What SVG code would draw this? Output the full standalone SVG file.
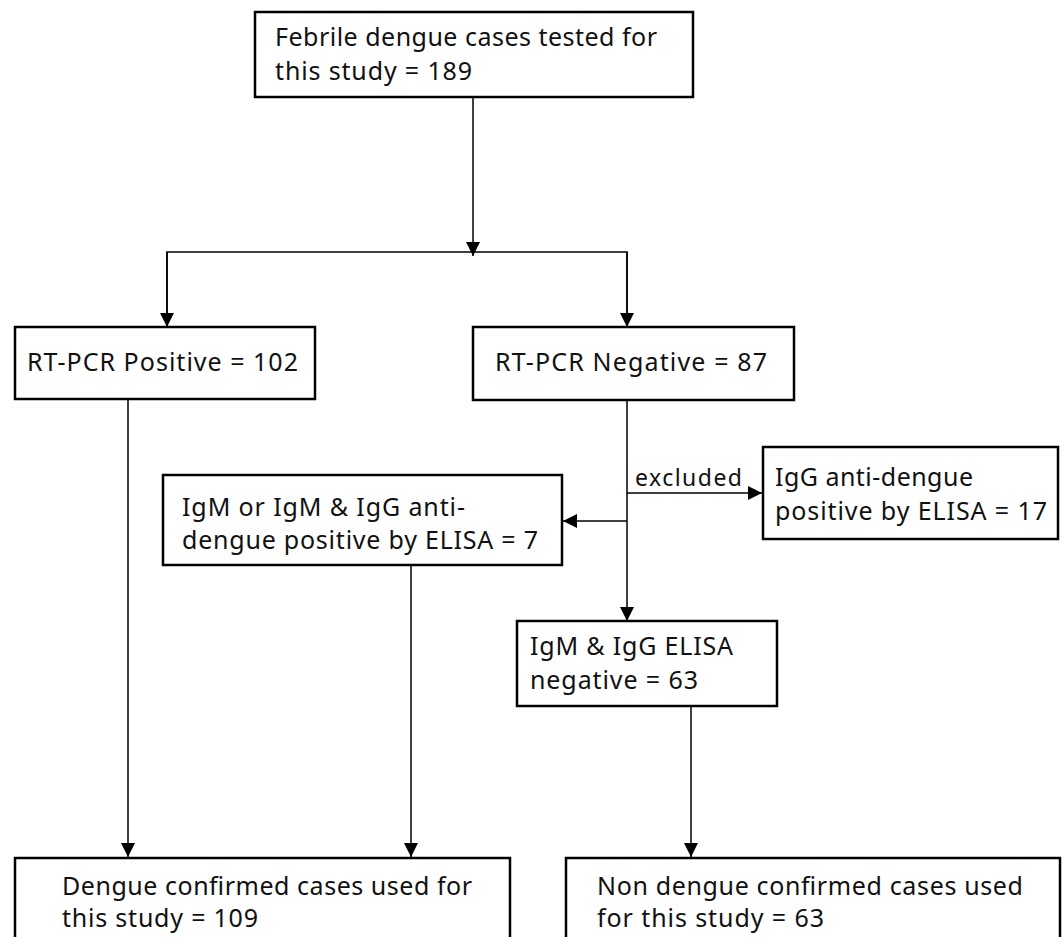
<svg xmlns="http://www.w3.org/2000/svg" width="1063" height="937" viewBox="0 0 1063 937">
<defs>
<marker id="ah" viewBox="0 0 10 10" refX="10" refY="5" markerWidth="14" markerHeight="14" markerUnits="userSpaceOnUse" orient="auto"><path d="M0,0 L10,5 L0,10 Z" fill="#000"/></marker>
<style>
.box{fill:#fff;stroke:#000;stroke-width:2.5}
.t{font-family:"Noto Sans","Open Sans",sans-serif;font-size:25px;fill:#111}
.s{font-family:"Noto Sans","Open Sans",sans-serif;font-size:23px;fill:#111}
.c{fill:none;stroke:#000;stroke-width:1.5}
</style>
</defs>
<rect width="1063" height="937" fill="#fff"/>
<g id="connectors">
<line class="c" x1="473" y1="97" x2="473" y2="256" marker-end="url(#ah)"/>
<polyline class="c" points="167,327 167,252 627,252 627,327"/>
<line class="c" x1="167" y1="252" x2="167" y2="327" marker-end="url(#ah)"/>
<line class="c" x1="627" y1="252" x2="627" y2="327" marker-end="url(#ah)"/>
<line class="c" x1="627" y1="400" x2="627" y2="621" marker-end="url(#ah)"/>
<line class="c" x1="627" y1="493" x2="762" y2="493" marker-end="url(#ah)"/>
<line class="c" x1="627" y1="521" x2="563" y2="521" marker-end="url(#ah)"/>
<line class="c" x1="128" y1="399" x2="128" y2="857" marker-end="url(#ah)"/>
<line class="c" x1="411" y1="565" x2="411" y2="857" marker-end="url(#ah)"/>
<line class="c" x1="691" y1="706" x2="691" y2="857" marker-end="url(#ah)"/>
<text class="s" x="635" y="486" textLength="107">excluded</text>
</g>
<g id="n_febrile">
<rect class="box" x="255" y="12" width="438" height="85"/>
<text class="t" x="275" y="46" textLength="382">Febrile dengue cases tested for</text>
<text class="t" x="275" y="80" textLength="197">this study = 189</text>
</g>
<g id="n_pos">
<rect class="box" x="15" y="327" width="300" height="72"/>
<text class="t" x="27" y="371" textLength="271">RT-PCR Positive = 102</text>
</g>
<g id="n_neg">
<rect class="box" x="473" y="327" width="321" height="73"/>
<text class="t" x="495" y="371" textLength="272">RT-PCR Negative = 87</text>
</g>
<g id="n_igg">
<rect class="box" x="763" y="447" width="295" height="92"/>
<text class="t" x="775" y="486" textLength="198">IgG anti-dengue</text>
<text class="t" x="775" y="520" textLength="272">positive by ELISA = 17</text>
</g>
<g id="n_igm">
<rect class="box" x="163" y="475" width="399" height="90"/>
<text class="t" x="182" y="516" textLength="283">IgM or IgM &amp; IgG anti-</text>
<text class="t" x="182" y="549" textLength="356">dengue positive by ELISA = 7</text>
</g>
<g id="n_elisaneg">
<rect class="box" x="517" y="621" width="260" height="85"/>
<text class="t" x="530" y="655" textLength="203">IgM &amp; IgG ELISA</text>
<text class="t" x="530" y="689" textLength="168">negative = 63</text>
</g>
<g id="n_dengue">
<rect class="box" x="15" y="858" width="495" height="100"/>
<text class="t" x="62" y="895" textLength="410">Dengue confirmed cases used for</text>
<text class="t" x="62" y="927" textLength="196">this study = 109</text>
</g>
<g id="n_nondengue">
<rect class="box" x="566" y="858" width="494" height="100"/>
<text class="t" x="597" y="895" textLength="426">Non dengue confirmed cases used</text>
<text class="t" x="597" y="927" textLength="227">for this study = 63</text>
</g>
</svg>
